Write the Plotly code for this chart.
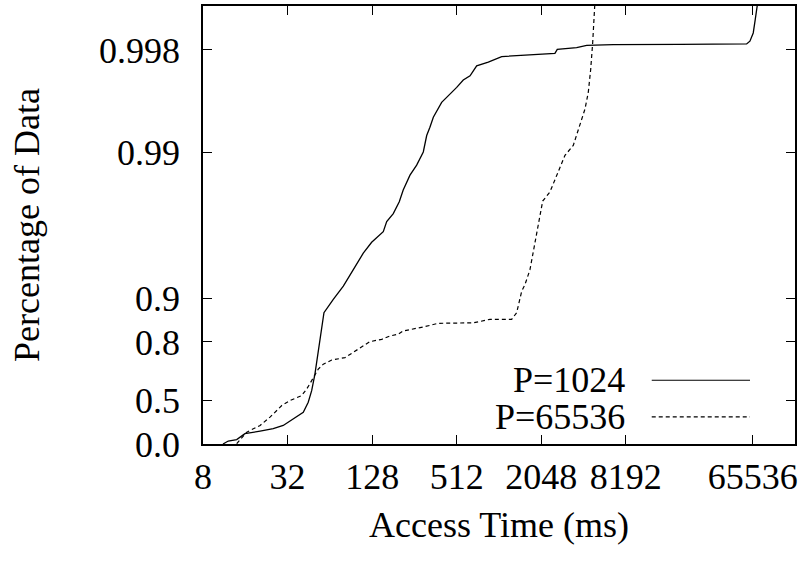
import math
import plotly.graph_objects as go

# ---- data ----
time_p1024 = [11.1, 12.1, 13.9, 15.9, 20.4, 25.3, 29.8, 35.1, 41.4, 44.9, 47.5, 50.1, 52.9, 56.0,
              58.1, 67.7, 79.8, 94.0, 110.7, 127, 153.6, 162.5, 181, 199.7, 213, 238, 265.6, 296,
              313, 330, 349, 400, 459, 512, 570, 637, 710, 859, 1070, 1444, 2561, 2661, 3658,
              4309, 6664, 19880, 59300, 62600, 66090, 68300, 71050, 72500]
cdf_p1024 = [0.0, 0.046, 0.067, 0.150, 0.184, 0.215, 0.254, 0.328, 0.394, 0.482, 0.569, 0.668, 0.770,
             0.840, 0.874, 0.898, 0.917, 0.936, 0.9507, 0.9585, 0.9649, 0.9700, 0.9736, 0.9781,
             0.9818, 0.9856, 0.9877, 0.9900, 0.99229, 0.99324, 0.99422, 0.99543, 0.99598, 0.99639,
             0.99679, 0.99699, 0.99743, 0.99758, 0.99778, 0.99782, 0.99789, 0.99802, 0.99807,
             0.99814, 0.99816, 0.99817, 0.99818, 0.99826, 0.99847, 0.99876, 0.99905, 0.9995]

time_p65536 = [13.9, 15.1, 16.4, 20.4, 24.0, 29.1, 33.3, 40.3, 43.8, 47.5, 52.9, 57.5, 66.0, 82.0,
               94.0, 123.5, 149.7, 171.5, 196.5, 213, 296, 378, 672, 883, 1261, 1368, 1485, 1567,
               1701, 1796, 1899, 2004, 2095, 2361, 2706, 3019, 3459, 3862, 4191, 4424, 4602, 4755,
               4858, 4937, 4980]
cdf_p65536 = [0.005, 0.095, 0.171, 0.254, 0.345, 0.455, 0.496, 0.534, 0.580, 0.632, 0.693, 0.716,
              0.734, 0.744, 0.764, 0.801, 0.808, 0.818, 0.823, 0.832, 0.842, 0.851, 0.852, 0.860,
              0.860, 0.874, 0.910, 0.919, 0.936, 0.952, 0.963, 0.973, 0.9783, 0.98125, 0.98629,
              0.98946, 0.99098, 0.99341, 0.99492, 0.99609, 0.99728, 0.99821, 0.99876, 0.99897, 0.9992]

x_ticks = [8, 32, 128, 512, 2048, 8192, 65536]
y_ticks = [0.0, 0.5, 0.8, 0.9, 0.99, 0.998]
y_tick_labels = ["0.0", "0.5", "0.8", "0.9", "0.99", "0.998"]
series_names = ["P=1024", "P=65536"]


def tail(p):
    # scale used by the chart: -log10(1 - p)
    return -math.log10(1.0 - p)


FONT = "Liberation Serif, Times New Roman, serif"
FS = 36

fig = go.Figure()
fig.add_trace(go.Scatter(x=time_p1024, y=[tail(p) for p in cdf_p1024], mode="lines",
                         name=series_names[0], showlegend=False,
                         line=dict(color="black", width=1.3)))
fig.add_trace(go.Scatter(x=time_p65536, y=[tail(p) for p in cdf_p65536], mode="lines",
                         name=series_names[1], showlegend=False,
                         line=dict(color="black", width=1.2, dash="4px,3px")))

# legend drawn gnuplot-style: right-aligned text, sample line to the right
leg_y = [0.1455, 0.062]
for name, yy, dash in zip(series_names, leg_y, ["solid", "4px,3px"]):
    fig.add_annotation(x=0.716, y=yy, xref="paper", yref="paper", text=name, showarrow=False,
                       xanchor="right", yanchor="middle", font=dict(family=FONT, size=FS, color="black"))
    fig.add_shape(type="line", xref="paper", yref="paper", x0=0.758, x1=0.924, y0=yy, y1=yy,
                  line=dict(color="black", width=1.2, dash=dash))

fig.update_xaxes(type="log", range=[math.log10(8), math.log10(131072)],
                 tickvals=x_ticks, ticktext=[str(v) for v in x_ticks],
                 ticks="inside", ticklen=9, tickwidth=1.2, tickcolor="black",
                 showline=True, linecolor="black", linewidth=1.5, mirror="ticks",
                 showgrid=False, zeroline=False, ticklabelstandoff=0,
                 tickfont=dict(family=FONT, size=FS, color="black"),
                 title=dict(text="Access Time (ms)", font=dict(family=FONT, size=FS, color="black"),
                            standoff=16))
fig.update_yaxes(range=[0, 3], tickvals=[tail(p) for p in y_ticks], ticktext=y_tick_labels,
                 ticks="inside", ticklen=9, tickwidth=1.2, tickcolor="black",
                 showline=True, linecolor="black", linewidth=1.5, mirror="ticks",
                 showgrid=False, zeroline=False, ticklabelstandoff=14,
                 tickfont=dict(family=FONT, size=FS, color="black"),
                 title=dict(text="Percentage of Data", font=dict(family=FONT, size=FS, color="black"),
                            standoff=48))

fig.update_layout(width=806, height=561, margin=dict(l=203, r=11, t=4, b=117),
                  plot_bgcolor="white", paper_bgcolor="white", showlegend=False)

fig.write_html("out.html")
